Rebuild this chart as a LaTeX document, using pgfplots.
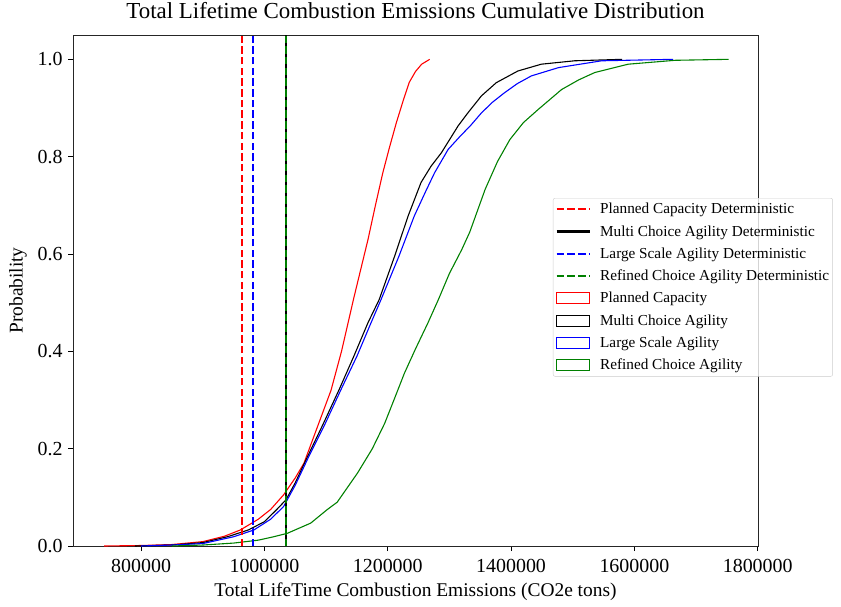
\documentclass[border=0pt]{standalone}
\usepackage{fontspec}
\setmainfont{Liberation Serif}
\usepackage{pgfplots}
\pgfplotsset{compat=1.18}
\definecolor{mplgreen}{RGB}{0,128,0}
\pgfplotsset{
  linelegend/.style={legend image code/.code={\path[draw=none] (0bp,0bp) -- (43.5bp,0bp); \draw[sharp corners,##1] (2bp,0bp) -- (35bp,0bp);}},
  patchlegend/.style={legend image code/.code={\path[draw=none] (0bp,0bp) -- (43.5bp,0bp); \draw[sharp corners,##1] (2bp,-5.5bp) rectangle (35bp,5.5bp);}},
}
\begin{document}
\begin{tikzpicture}
\begin{axis}[
  width=685bp, height=511bp, scale only axis,
  xmin=689500, xmax=1800500, ymin=0, ymax=1.05,
  xtick={800000,1000000,1200000,1400000,1600000,1800000},
  ytick={0,0.2,0.4,0.6,0.8,1.0},
  scaled x ticks=false,
  xticklabel style={/pgf/number format/fixed,/pgf/number format/1000 sep={}, yshift=-5bp},
  yticklabel style={/pgf/number format/fixed,/pgf/number format/fixed zerofill,/pgf/number format/precision=1, xshift=-2bp},
  /pgf/number format/assume math mode=true,
  tick align=outside, xtick pos=left, ytick pos=left,
  major tick length=5bp,
  tick style={black, line width=0.8pt},
  axis line style={line width=0.9pt, black!85},
  ticklabel style={font=\fontsize{20}{22}\selectfont},
  label style={font=\fontsize{19.5}{22}\selectfont},
  title style={font=\fontsize{23}{26}\selectfont, at={(axis description cs:0.5,1)}, anchor=base, yshift=11bp},
  title={Total Lifetime Combustion Emissions Cumulative Distribution},
  xlabel={Total LifeTime Combustion Emissions (CO2e tons)},
  ylabel={Probability},
  xlabel style={at={(axis description cs:0.5,0)}, anchor=center, yshift=-46bp},
  ylabel style={at={(axis description cs:-0.0803,0.5)}, anchor=center},
  legend style={at={(0.7007,0.681)}, anchor=north west, draw=black!20, rounded corners=2pt,
    fill=white, fill opacity=0.8, text opacity=1,
    font=\fontsize{15.3}{18}\selectfont, cells={anchor=west}, row sep=6.2bp, inner xsep=1.5bp, inner ysep=3bp},
  legend cell align=left,
]
% legend entries
\addlegendimage{linelegend, red, line width=1.8pt, dash pattern=on 7.5bp off 3.2bp}
\addlegendentry{Planned Capacity Deterministic}
\addlegendimage{linelegend, black, line width=2.4pt}
\addlegendentry{Multi Choice Agility Deterministic}
\addlegendimage{linelegend, blue, line width=1.8pt, dash pattern=on 7.5bp off 3.2bp}
\addlegendentry{Large Scale Agility Deterministic}
\addlegendimage{linelegend, mplgreen, line width=1.8pt, dash pattern=on 7.5bp off 3.2bp}
\addlegendentry{Refined Choice Agility Deterministic}
\addlegendimage{patchlegend, draw=red, fill=none, line width=1.1pt}
\addlegendentry{Planned Capacity}
\addlegendimage{patchlegend, draw=black, fill=none, line width=1.1pt}
\addlegendentry{Multi Choice Agility}
\addlegendimage{patchlegend, draw=blue, fill=none, line width=1.1pt}
\addlegendentry{Large Scale Agility}
\addlegendimage{patchlegend, draw=mplgreen, fill=none, line width=1.1pt}
\addlegendentry{Refined Choice Agility}

% Planned Capacity
\addplot[red, line width=1.1pt, forget plot] coordinates {
(740000,0) (800000,0.001) (850000,0.003) (900000,0.009) (935000,0.02) (961000,0.033)
(990000,0.055) (1010000,0.075) (1031000,0.105) (1050000,0.14) (1064000,0.17)
(1086000,0.245) (1108000,0.32) (1125000,0.40) (1145000,0.51) (1168000,0.63)
(1180000,0.70) (1192000,0.767) (1203000,0.82) (1214000,0.87) (1225000,0.915)
(1235000,0.953) (1245000,0.975) (1255000,0.99) (1268000,1.0)};
% Multi Choice Agility
\addplot[black, line width=1.1pt, forget plot] coordinates {
(790000,0) (850000,0.002) (900000,0.007) (940000,0.019) (974000,0.033) (1000000,0.05)
(1020000,0.075) (1035000,0.095) (1050000,0.13) (1070000,0.184) (1095000,0.25)
(1121000,0.321) (1145000,0.39) (1168000,0.459) (1186000,0.506) (1211000,0.595)
(1233000,0.678) (1254000,0.747) (1270000,0.78) (1287000,0.808) (1314000,0.863)
(1330000,0.89) (1352000,0.925) (1376000,0.952) (1411000,0.976) (1449000,0.99)
(1503000,0.997) (1580000,1.0)};
% Large Scale Agility
\addplot[blue, line width=1.1pt, forget plot] coordinates {
(800000,0) (850000,0.002) (900000,0.005) (950000,0.019) (983000,0.033) (1010000,0.055)
(1031000,0.081) (1050000,0.125) (1072000,0.184) (1098000,0.25) (1124000,0.321)
(1150000,0.39) (1173000,0.459) (1189000,0.506) (1218000,0.595) (1243000,0.678)
(1262000,0.73) (1276000,0.767) (1298000,0.815) (1316000,0.84) (1335000,0.865)
(1352000,0.89) (1370000,0.912) (1389000,0.931) (1410000,0.95) (1433000,0.966)
(1477000,0.983) (1547000,0.997) (1663000,1.0)};
% Refined Choice Agility
\addplot[mplgreen, line width=1.1pt, forget plot] coordinates {
(850000,0) (900000,0.002) (950000,0.006) (990000,0.012) (1015000,0.019) (1037000,0.026)
(1075000,0.047) (1102000,0.075) (1118000,0.09) (1151000,0.15) (1175000,0.2)
(1195000,0.252) (1210000,0.30) (1227000,0.355) (1245000,0.405) (1265000,0.458)
(1282000,0.506) (1300000,0.56) (1320000,0.609) (1333000,0.645) (1358000,0.733)
(1378000,0.79) (1398000,0.835) (1420000,0.87) (1444000,0.897) (1482000,0.938)
(1510000,0.958) (1536000,0.973) (1590000,0.99) (1666000,0.998) (1753000,1.0)};

% deterministic vertical lines
\addplot[red, line width=1.8pt, dash pattern=on 7.5bp off 3.2bp, forget plot] coordinates {(963700,0) (963700,1.05)};
\addplot[black, line width=2.4pt, forget plot] coordinates {(1034600,0) (1034600,1.05)};
\addplot[blue, line width=1.8pt, dash pattern=on 7.5bp off 3.2bp, forget plot] coordinates {(981600,0) (981600,1.05)};
\addplot[mplgreen, line width=1.8pt, dash pattern=on 7.5bp off 3.2bp, forget plot] coordinates {(1034600,0) (1034600,1.05)};
\end{axis}
\pgfresetboundingbox
\useasboundingbox ([shift={(-73bp,-61bp)}]current axis.south west) rectangle ([shift={(83bp,35bp)}]current axis.north east);
\end{tikzpicture}
\end{document}
